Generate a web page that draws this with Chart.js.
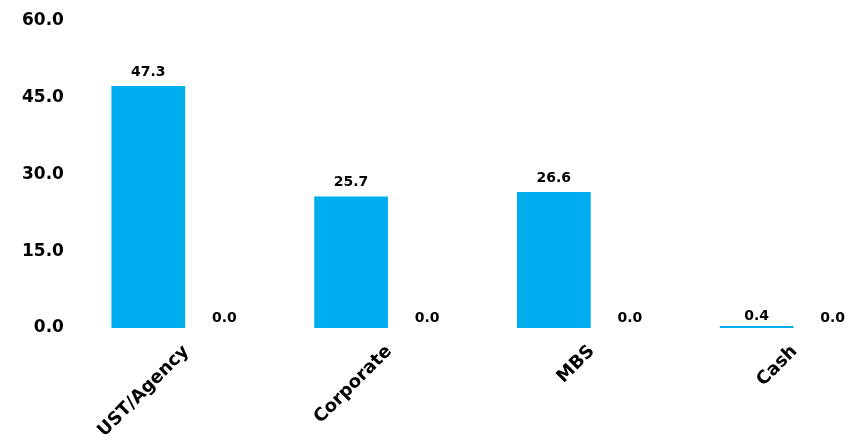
<!DOCTYPE html>
<html>
<head>
<meta charset="utf-8">
<script src="https://cdn.jsdelivr.net/npm/chart.js@4/dist/chart.umd.min.js"></script>
<style>
  body { margin: 0; background: #fff; overflow: hidden; }
  #wrap { width: 920px; height: 442px; margin-left: -20px; }
</style>
</head>
<body>
<div id="wrap"><canvas id="Holdings"></canvas></div>
<script>
// data
const categories = ["UST/Agency", "Corporate", "MBS", "Cash"];
const portfolio = [47.3, 25.7, 26.6, 0.4];
const benchmark = [0.0, 0.0, 0.0, 0.0];
const yTicks = [0, 15, 30, 45, 60];

const FONT = "'DejaVu Sans', sans-serif";

// simple value labels on top of each bar (no datalabels plugin available)
const barLabels = {
  id: 'barLabels',
  afterDatasetsDraw(chart) {
    const ctx = chart.ctx;
    ctx.save();
    ctx.font = "bold 14px " + FONT;
    ctx.fillStyle = '#000';
    ctx.textAlign = 'center';
    ctx.textBaseline = 'bottom';
    chart.data.datasets.forEach((ds, i) => {
      const meta = chart.getDatasetMeta(i);
      meta.data.forEach((bar, j) => {
        const v = ds.data[j];
        const gap = v >= 1 ? 7 : 3;
        ctx.fillText(v.toFixed(1), bar.x, bar.y - gap);
      });
    });
    ctx.restore();
  }
};

const data = {
  labels: categories,
  datasets: [{
    label: 'Portfolio',
    data: portfolio,
    backgroundColor: '#00aeef',
    barPercentage: 0.97,
    categoryPercentage: 0.75
  }, {
    label: 'Benchmark',
    data: benchmark,
    backgroundColor: '#7f7f7f',
    barPercentage: 0.97,
    categoryPercentage: 0.75
  }]
};

const config = {
  type: 'bar',
  data: data,
  options: {
    responsive: true,
    maintainAspectRatio: false,
    animation: false,
    layout: { padding: { left: 21, right: 4, top: 21, bottom: 0 } },
    plugins: {
      legend: { display: false },
      tooltip: { enabled: false }
    },
    scales: {
      x: {
        grid: { display: false, drawTicks: false },
        border: { display: false },
        afterFit: scale => { scale.height = 114; },
        ticks: {
          color: '#000',
          font: { family: FONT, size: 18, weight: 'bold' },
          minRotation: 45,
          maxRotation: 45,
          padding: 13
        }
      },
      y: {
        min: yTicks[0],
        max: yTicks[yTicks.length - 1],
        grid: { display: false, drawTicks: false },
        border: { display: false },
        afterBuildTicks: axis => { axis.ticks = yTicks.map(v => ({ value: v })); },
        afterFit: scale => {
          scale.paddingTop = 0;
          scale.paddingBottom = 0;
        },
        ticks: {
          color: '#000',
          font: { family: FONT, size: 17, weight: 'bold' },
          padding: 21,
          callback: v => Number(v).toFixed(1)
        }
      }
    }
  },
  plugins: [barLabels]
};

const ctx = document.getElementById('Holdings');
new Chart(ctx, config);
</script>
</body>
</html>
